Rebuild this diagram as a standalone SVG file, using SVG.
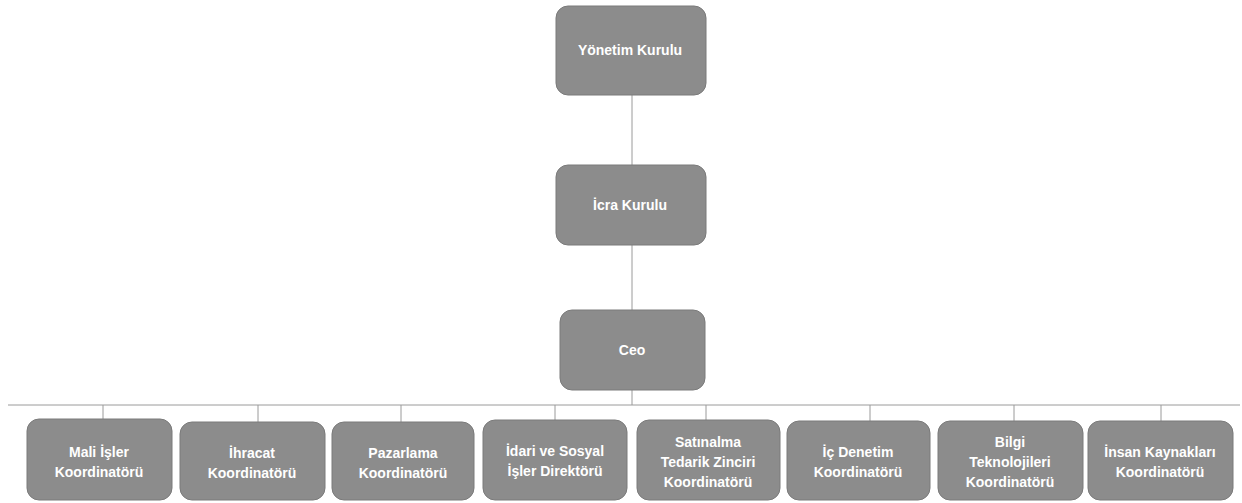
<svg xmlns="http://www.w3.org/2000/svg" width="1242" height="503" viewBox="0 0 1242 503">
<style>
.box{fill:#8c8c8c;stroke:#7a7a7a;stroke-width:1}
.t{fill:#ffffff;font-family:"Liberation Sans",Arial,sans-serif;font-weight:bold;font-size:14px;text-anchor:middle}
.ln{stroke:#9a9a9a;stroke-width:1;fill:none}
</style>
<rect width="1242" height="503" fill="#ffffff"/>
<g id="connectors">
<line class="ln" x1="632" y1="95" x2="632" y2="165"/>
<line class="ln" x1="632" y1="245" x2="632" y2="310"/>
<line class="ln" x1="632" y1="390" x2="632" y2="405"/>
<line class="ln" x1="8" y1="405" x2="1240" y2="405"/>
<line class="ln" x1="103" y1="405" x2="103" y2="419"/>
<line class="ln" x1="258" y1="405" x2="258" y2="422"/>
<line class="ln" x1="401" y1="405" x2="401" y2="422"/>
<line class="ln" x1="555" y1="405" x2="555" y2="420"/>
<line class="ln" x1="706" y1="405" x2="706" y2="420"/>
<line class="ln" x1="870" y1="405" x2="870" y2="421"/>
<line class="ln" x1="1014" y1="405" x2="1014" y2="421"/>
<line class="ln" x1="1161" y1="405" x2="1161" y2="421"/>
</g>
<g id="yonetim"><rect class="box" x="556" y="6" width="150" height="89" rx="12"/><text class="t" x="630" y="55">Yönetim Kurulu</text></g>
<g id="icra"><rect class="box" x="556" y="165" width="150" height="80" rx="12"/><text class="t" x="630" y="210">İcra Kurulu</text></g>
<g id="ceo"><rect class="box" x="560" y="310" width="145" height="80" rx="12"/><text class="t" x="632" y="355">Ceo</text></g>
<g id="mali"><rect class="box" x="27" y="419" width="145" height="81" rx="12"/><text class="t" x="99" y="457">Mali İşler</text><text class="t" x="99" y="477">Koordinatörü</text></g>
<g id="ihracat"><rect class="box" x="180" y="422" width="145" height="78" rx="12"/><text class="t" x="252" y="458">İhracat</text><text class="t" x="252" y="478">Koordinatörü</text></g>
<g id="pazarlama"><rect class="box" x="332" y="422" width="142" height="78" rx="12"/><text class="t" x="403" y="458">Pazarlama</text><text class="t" x="403" y="478">Koordinatörü</text></g>
<g id="idari"><rect class="box" x="483" y="420" width="144" height="80" rx="12"/><text class="t" x="555" y="456">İdari ve Sosyal</text><text class="t" x="555" y="476">İşler Direktörü</text></g>
<g id="satinalma"><rect class="box" x="637" y="420" width="143" height="80" rx="12"/><text class="t" x="708" y="447">Satınalma</text><text class="t" x="708" y="467">Tedarik Zinciri</text><text class="t" x="708" y="487">Koordinatörü</text></g>
<g id="icdenetim"><rect class="box" x="787" y="421" width="143" height="79" rx="12"/><text class="t" x="858" y="457">İç Denetim</text><text class="t" x="858" y="477">Koordinatörü</text></g>
<g id="bilgi"><rect class="box" x="938" y="421" width="145" height="79" rx="12"/><text class="t" x="1010" y="447">Bilgi</text><text class="t" x="1010" y="467">Teknolojileri</text><text class="t" x="1010" y="487">Koordinatörü</text></g>
<g id="insan"><rect class="box" x="1088" y="421" width="145" height="79" rx="12"/><text class="t" x="1160" y="457">İnsan Kaynakları</text><text class="t" x="1160" y="477">Koordinatörü</text></g>
</svg>
